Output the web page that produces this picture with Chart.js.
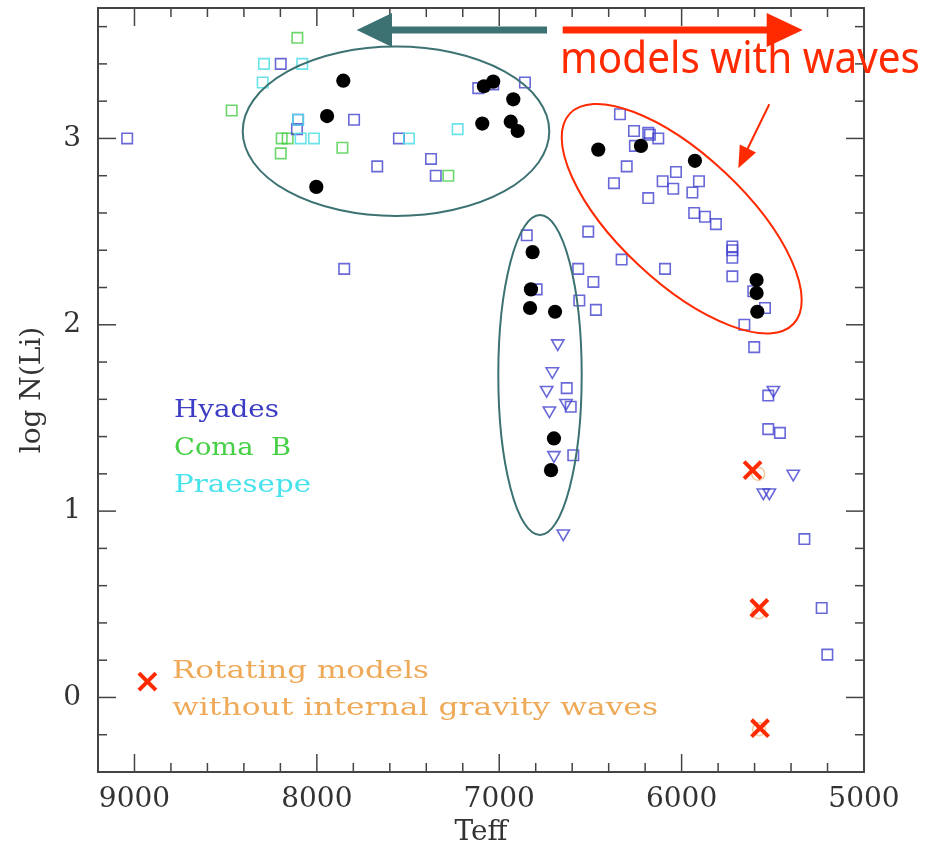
<!DOCTYPE html>
<html>
<head>
<meta charset="utf-8">
<script src="https://cdn.jsdelivr.net/npm/chart.js@4.4.1/dist/chart.umd.min.js"></script>
<style>
  html, body { margin: 0; padding: 0; background: #fff; }
  canvas { display: block; }
</style>
</head>
<body>
<canvas id="c" width="940" height="850"></canvas>
<script>
// Axis tick values
const teffTicks = [9000, 8000, 7000, 6000, 5000];
const logLiTicks = [0, 1, 2, 3];

// Observations: [Teff, log N(Li)]
const hyades = [
  [9040, 3.00], [8198, 3.40], [8103, 3.10], [8109, 3.05], [7796, 3.10], [7850, 2.30],
  [7669, 2.85], [7550, 3.00], [7374, 2.89], [7348, 2.80], [7115, 3.27], [7033, 3.29],
  [6859, 3.30], [6849, 2.48], [6338, 3.13], [6261, 3.04], [6183, 3.03], [6174, 3.02],
  [6128, 3.00], [6256, 2.96], [6301, 2.85], [6371, 2.76], [6031, 2.82], [6104, 2.77],
  [6046, 2.73], [5905, 2.77], [5941, 2.71], [6183, 2.68], [5931, 2.60], [5872, 2.58],
  [5812, 2.54], [5722, 2.42], [5722, 2.40], [5722, 2.36], [5722, 2.26], [5607, 2.18],
  [5543, 2.09], [5656, 2.00], [6512, 2.50], [6795, 2.19], [6567, 2.30], [6329, 2.35],
  [6091, 2.30], [6484, 2.23], [6561, 2.13], [6470, 2.08], [5602, 1.88], [6630, 1.66],
  [6608, 1.56], [6594, 1.30], [5525, 1.62], [5525, 1.44], [5461, 1.42], [5327, 0.85],
  [5232, 0.48], [5201, 0.23]
];
const hyadesLimits = [
  [6679, 1.90], [6709, 1.75], [6740, 1.65], [6634, 1.58], [6725, 1.54], [6700, 1.30],
  [6649, 0.88], [5497, 1.65], [5388, 1.20], [5552, 1.10], [5519, 1.10]
];
const comaB = [
  [8107, 3.54], [8467, 3.15], [8193, 3.00], [8160, 3.00], [8198, 2.92], [7860, 2.95],
  [7279, 2.80]
];
const praesepe = [
  [8290, 3.40], [8080, 3.40], [8297, 3.30], [8103, 3.10], [8089, 3.00], [8016, 3.00],
  [7495, 3.00], [7228, 3.05]
];

// Models
const wavesModels = [
  [7855, 3.31], [7944, 3.12], [8003, 2.74], [7093, 3.08], [7084, 3.28], [7033, 3.305],
  [6923, 3.21], [6937, 3.09], [6899, 3.04], [6457, 2.94], [6223, 2.96], [5927, 2.88],
  [5589, 2.24], [5589, 2.17], [5585, 2.07], [6817, 2.39], [6826, 2.19], [6831, 2.09],
  [6694, 2.07], [6700, 1.39], [6716, 1.22]
];
const noWavesModels = [[5611, 1.22], [5574, 0.48], [5570, -0.165]];
const noWavesRings = [[5580, 1.20], [5578, 0.457], [5575, -0.17]];

const toXY = pts => pts.map(([x, y]) => ({ x, y }));

const SERIF = '"DejaVu Serif", "Liberation Serif", serif';
const BLUE = 'rgba(62,62,205,0.78)';
const GREEN = 'rgba(70,205,70,0.8)';
const CYAN = 'rgba(80,222,232,0.85)';
const RED = '#ff2a00';
const TEAL = '#3d7272';
const INK = '#333';

function openMarker(color, style, radius, extra) {
  return Object.assign({
    pointStyle: style, pointRadius: radius, pointBorderColor: color,
    pointBackgroundColor: 'rgba(0,0,0,0)', pointBorderWidth: 1.6, showLine: false
  }, extra || {});
}

// Scale boxes get a fixed size so the plot frame lands where it should
function fixBox(size, horizontal) {
  return s => {
    if (horizontal) s.height = size; else s.width = size;
    s.paddingLeft = 0; s.paddingRight = 0; s.paddingTop = 0; s.paddingBottom = 0;
  };
}

// Frame, inward ticks, ellipses, arrows and labels
const decor = {
  id: 'decor',
  afterDatasetsDraw(chart) {
    const { ctx, chartArea: a, scales: { x, y } } = chart;
    ctx.save();

    const seg = (x1, y1, x2, y2) => { ctx.beginPath(); ctx.moveTo(x1, y1); ctx.lineTo(x2, y2); ctx.stroke(); };

    ctx.strokeStyle = '#444';
    ctx.lineWidth = 1.5;
    for (let v = 5200; v < 9200; v += 200) {
      const px = x.getPixelForValue(v);
      const len = v % 1000 === 0 ? 18 : 9;
      seg(px, a.bottom, px, a.bottom - len);
      seg(px, a.top, px, a.top + len);
    }
    for (let k = -1; k <= 18; k++) {
      const py = y.getPixelForValue(k * 0.2);
      const len = k % 5 === 0 ? 18 : 9;
      seg(a.left, py, a.left + len, py);
      seg(a.right, py, a.right - len, py);
    }
    ctx.lineWidth = 2;
    ctx.strokeRect(a.left, a.top, a.right - a.left, a.bottom - a.top);

    // Group outlines
    ctx.lineWidth = 2;
    ctx.strokeStyle = TEAL;
    ctx.beginPath(); ctx.ellipse(396, 131.3, 153.3, 84.7, 0, 0, Math.PI * 2); ctx.stroke();
    ctx.beginPath(); ctx.ellipse(540, 375, 41.7, 160, 0, 0, Math.PI * 2); ctx.stroke();
    ctx.strokeStyle = RED;
    ctx.beginPath(); ctx.ellipse(681.7, 218.7, 153.5, 63.3, 0.754, 0, Math.PI * 2); ctx.stroke();

    // Direction arrows
    ctx.fillStyle = TEAL;
    ctx.fillRect(391, 26.5, 156, 7);
    ctx.beginPath(); ctx.moveTo(356.7, 30); ctx.lineTo(392, 13); ctx.lineTo(392, 47); ctx.closePath(); ctx.fill();
    ctx.fillStyle = RED;
    ctx.fillRect(562.7, 26.5, 205, 7);
    ctx.beginPath(); ctx.moveTo(802.7, 30); ctx.lineTo(766.7, 13); ctx.lineTo(766.7, 47); ctx.closePath(); ctx.fill();

    // Pointer to the wave models
    ctx.strokeStyle = RED;
    ctx.lineWidth = 2;
    seg(769.3, 104.3, 746, 152);
    ctx.beginPath(); ctx.moveTo(738.3, 168.3); ctx.lineTo(756, 152.4); ctx.lineTo(739.8, 144.6); ctx.closePath(); ctx.fill();

    // Fitted-width text helper
    const fitText = (text, x0, base, width, font, color) => {
      ctx.font = font;
      ctx.fillStyle = color;
      ctx.textAlign = 'left';
      ctx.textBaseline = 'alphabetic';
      const w = ctx.measureText(text).width;
      ctx.save();
      ctx.translate(x0, base);
      ctx.scale(width / w, 1);
      ctx.fillText(text, 0, 0);
      ctx.restore();
    };

    fitText('models with waves', 560, 73, 360, '43px "Noto Sans", sans-serif', RED);

    const lf = '25px ' + SERIF;
    fitText('Hyades', 174, 417, 105, lf, '#3b3bc4');
    fitText('Coma  B', 174, 455, 117, lf, '#46d046');
    fitText('Praesepe', 174, 492, 137, lf, '#48e2ec');
    fitText('Rotating models', 172, 678, 257, lf, '#eeaa58');
    fitText('without internal gravity waves', 172, 715, 486, lf, '#eeaa58');

    // Legend cross
    ctx.strokeStyle = RED;
    ctx.lineWidth = 4;
    const cx = 147.4, cy = 681.7, h = 8.5;
    seg(cx - h, cy - h, cx + h, cy + h);
    seg(cx - h, cy + h, cx + h, cy - h);

    ctx.restore();
  }
};

new Chart(document.getElementById('c'), {
  type: 'scatter',
  data: {
    datasets: [
      Object.assign({ label: 'Rotating models without internal gravity waves', data: toXY(noWavesModels) },
        openMarker(RED, 'crossRot', 12, { pointBorderWidth: 4 })),
      { label: 'models with waves', data: toXY(wavesModels), pointStyle: 'circle', pointRadius: 7.1,
        pointBackgroundColor: '#000', pointBorderColor: '#000', pointBorderWidth: 0, showLine: false },
      Object.assign({ label: 'rotating models (rings)', data: toXY(noWavesRings) },
        openMarker('rgba(226,172,104,0.6)', 'circle', 6.5)),
      Object.assign({ label: 'Hyades (upper limits)', data: toXY(hyadesLimits) },
        openMarker(BLUE, 'triangle', 7.1, { pointRotation: 180 })),
      Object.assign({ label: 'Praesepe', data: toXY(praesepe) }, openMarker(CYAN, 'rect', 7.4)),
      Object.assign({ label: 'Hyades', data: toXY(hyades) }, openMarker(BLUE, 'rect', 7.4)),
      Object.assign({ label: 'Coma B', data: toXY(comaB) }, openMarker(GREEN, 'rect', 7.4))
    ]
  },
  options: {
    responsive: false,
    animation: false,
    devicePixelRatio: 1,
    layout: { autoPadding: false, padding: { left: 0, top: 8, right: 76, bottom: 0 } },
    plugins: { legend: { display: false }, tooltip: { enabled: false } },
    elements: { point: { hoverRadius: 0 } },
    scales: {
      x: {
        type: 'linear', position: 'bottom', reverse: true, min: 5000, max: 9200,
        grid: { display: false, drawTicks: false },
        border: { display: false },
        ticks: { autoSkip: false, maxRotation: 0, padding: 11, color: INK,
                 font: { family: SERIF, size: 28 }, callback: v => String(v) },
        title: { display: true, text: 'Teff', color: INK, font: { family: SERIF, size: 28 },
                 padding: { top: 0, bottom: 0 } },
        afterBuildTicks: s => { s.ticks = teffTicks.map(v => ({ value: v })); },
        afterFit: fixBox(78, true)
      },
      y: {
        type: 'linear', position: 'left', min: -0.4, max: 3.7,
        grid: { display: false, drawTicks: false },
        border: { display: false },
        ticks: { autoSkip: false, padding: 17, color: INK,
                 font: { family: SERIF, size: 28 }, callback: v => String(v) },
        title: { display: true, text: 'log N(Li)', color: INK, font: { family: SERIF, size: 28 },
                 padding: { top: 16, bottom: 0 } },
        afterBuildTicks: s => { s.ticks = logLiTicks.map(v => ({ value: v })); },
        afterFit: fixBox(98, false)
      }
    }
  },
  plugins: [decor]
});
</script>
</body>
</html>
